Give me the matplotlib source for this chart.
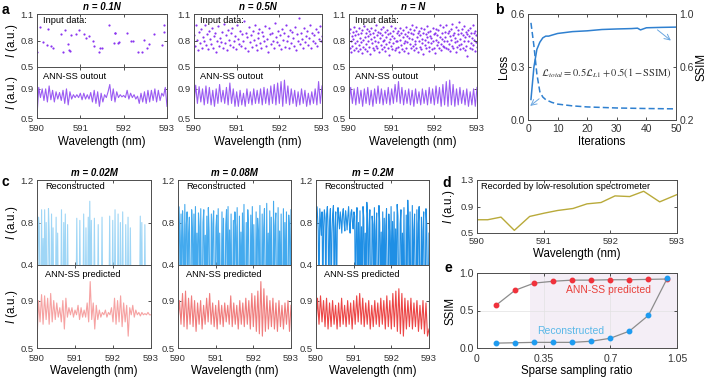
import numpy as np
import matplotlib.pyplot as plt

plt.rcParams['font.family'] = ['Liberation Sans', 'DejaVu Sans']
plt.rcParams['mathtext.fontset'] = 'custom'
plt.rcParams['mathtext.it'] = 'Liberation Sans:italic'
plt.rcParams['mathtext.rm'] = 'Liberation Sans'
plt.rcParams['mathtext.bf'] = 'Liberation Sans:bold'
plt.rcParams['axes.linewidth'] = 0.7
plt.rcParams['axes.edgecolor'] = '#4d4d4d'

# ---------------- data ----------------
# panel a, input data (n = 0.1N)
a_in1_x = [590.01, 590.07, 590.13, 590.24, 590.25, 590.32, 590.38, 590.56, 590.61, 590.65,
           590.72, 590.74, 590.76, 590.78, 590.89, 590.97, 591.09, 591.13, 591.19, 591.30,
           591.32, 591.43, 591.46, 591.51, 591.67, 591.77, 591.79, 591.81, 591.86, 591.90,
           592.07, 592.18, 592.21, 592.32, 592.42, 592.48, 592.54, 592.59, 592.71, 592.89,
           592.92, 592.93]
a_in1_y = [0.67, 0.95, 0.78, 0.75, 0.93, 0.74, 0.72, 0.87, 0.67, 0.92,
           0.76, 0.69, 0.68, 0.86, 0.87, 0.92, 0.87, 0.83, 0.85, 0.79,
           0.74, 0.67, 0.71, 0.72, 0.97, 0.77, 0.89, 0.88, 0.77, 0.78,
           0.89, 0.80, 0.80, 0.67, 0.67, 0.81, 0.71, 0.76, 0.87, 0.75,
           0.90, 0.97]
# n = 0.5N (values x100)
a_in2_y = ("86 74 97 81 69 90 77 93 71 84 79 98 75 87 70 91 82 76 94 72 85 89 67 80 96 74 83 78 90 71 "
           "99 77 86 69 92 81 75 88 94 73 79 85 70 97 82 76 91 74 87 80 102 72 89 84 68 95 78 86 73 91 "
           "81 98 75 69 88 83 93 77 71 90 85 79 96 74 82 67 94 87 76 89 80 72 100 84 78 91 75 86 70 93 "
           "81 88 73 97 79 85 71 92 77 90 83 74 95 69 87 80 105 76 89 82 72 94 78 85 91 75 83 98 71 88 "
           "80 86 77 93 74 90 82 96 79 85")
# n = N (values x100)
a_in3_y = ("88 71 93 79 67 85 74 90 82 69 95 77 86 72 91 80 68 87 75 94 83 70 89 78 66 92 81 73 96 84 "
           "70 88 76 93 68 85 79 91 73 87 65 82 94 77 71 89 84 69 92 80 74 97 86 72 90 78 67 88 83 75 "
           "93 70 86 79 95 73 81 68 90 84 76 92 71 87 78 64 89 82 74 96 85 70 91 77 83 69 94 80 72 88 "
           "79 91 73 86 67 94 81 75 89 70 84 92 77 68 87 80 95 72 85 78 90 66 83 93 76 88 71 82 97 74 "
           "87 69 92 80 76 95 72 84 88 67 91 79 73 86 94 70 82 77 89 65 93 81 75 87 71 96 84 78 90 73 "
           "68 85 91 77 83 70 94 79 87 72 89 66 81 93 75 86 78 92 71 84 98 76 69 88 82 74 95 80 73 90 "
           "84 72 97 79 88 70 91 76 85 68 93 81 74 99 86 71 89 78 83 67 95 80 73 92 87 75 101 82 70 88 "
           "76 93 71 86 80 96 69 84 90 74 87 62 92 79 85 72 94 77 89 70 83 97 75 88 81 68 91 78 86 73")

# panel a, ANN-SS output
a_out1 = [0.52, 0.92, 0.78, 0.90, 0.74, 0.90, 0.72, 0.94, 0.75, 0.88, 0.72, 0.86, 0.76, 0.85, 0.74, 0.88,
          0.70, 0.90, 0.68, 0.86, 0.76, 0.82, 0.78, 0.82, 0.78, 0.84, 0.75, 0.84, 0.76, 0.82, 0.76, 0.85,
          0.72, 0.88, 0.70, 0.86, 0.66, 0.84, 0.72, 0.82, 0.78, 0.86, 0.96, 0.74, 0.90, 0.72, 0.86, 0.78,
          0.82, 0.79, 0.81, 0.78, 0.88, 0.76, 0.84, 0.78, 0.82, 0.76, 0.80, 0.70, 0.84, 0.72, 0.86, 0.70,
          0.88, 0.72, 0.88, 0.74, 0.90, 0.72, 0.88, 0.74, 0.84, 0.80, 0.92, 0.66]
a_out2 = [0.70, 0.95, 0.70, 0.93, 0.72, 0.90, 0.68, 0.94, 0.70, 0.92, 0.68, 0.88, 0.66, 0.90, 0.70, 0.96,
          0.72, 0.88, 0.70, 0.92, 0.68, 0.98, 0.70, 0.90, 0.66, 0.86, 0.66, 0.88, 0.68, 0.84, 0.66, 0.90,
          0.70, 0.86, 0.68, 0.90, 0.70, 0.88, 0.70, 0.90, 0.68, 0.92, 0.70, 0.90, 0.68, 0.94, 0.70, 0.96,
          0.68, 0.98, 0.70, 1.00, 0.66, 1.02, 0.70, 0.94, 0.68, 0.90, 0.70, 0.88, 0.66, 0.86, 0.68, 0.90,
          0.70, 0.88, 0.66, 0.84, 0.68, 0.86, 0.70, 0.90, 0.68, 1.00, 0.70, 0.94]
a_out3 = [0.68, 0.92, 0.70, 0.90, 0.68, 0.92, 0.70, 0.88, 0.66, 0.90, 0.70, 0.92, 0.68, 0.88, 0.66, 0.90,
          0.70, 0.94, 0.70, 0.90, 0.68, 0.88, 0.70, 0.92, 0.68, 0.90, 0.70, 0.96, 0.72, 1.00, 0.70, 0.92,
          0.68, 0.88, 0.70, 0.90, 0.68, 0.88, 0.66, 0.90, 0.70, 0.86, 0.68, 0.90, 0.70, 0.88, 0.68, 0.92,
          0.70, 0.90, 0.68, 0.94, 0.70, 0.92, 0.66, 0.96, 0.68, 1.00, 0.66, 1.02, 0.68, 0.96, 0.66, 0.90,
          0.68, 0.92, 0.70, 0.88, 0.68, 0.90, 0.66, 0.86, 0.68, 0.90, 0.66, 0.92]
a_titles = ['n = 0.1N', 'n = 0.5N', 'n = N']

# panel b
b_iter = [1, 2, 3, 4, 5, 6, 7, 8, 10, 15, 20, 25, 30, 35, 37, 38, 40, 45, 50]
b_ssim = [0.355, 0.60, 0.733, 0.787, 0.82, 0.833, 0.833, 0.84, 0.853, 0.867, 0.873, 0.883, 0.887,
          0.89, 0.893, 0.88, 0.896, 0.899, 0.901]
b_loss_iter = [1, 2, 3, 4, 5, 6, 8, 10, 15, 20, 30, 40, 50]
b_loss = [0.55, 0.42, 0.26, 0.16, 0.13, 0.115, 0.10, 0.09, 0.08, 0.074, 0.068, 0.065, 0.063]

# panel c, reconstructed (on a 150 point grid, 0 = not sampled)
grid_n = 150
rec1_idx = [2, 3, 6, 8, 10, 12, 15, 16, 19, 21, 25, 27, 32, 35, 37, 40, 52, 56, 61, 64, 67, 69, 71,
            75, 80, 85, 95, 99, 102, 106, 109, 112, 116, 119, 122, 135, 137, 141]
rec1_val = [0.85, 0.76, 0.92, 0.65, 0.92, 0.80, 0.93, 0.70, 0.88, 0.75, 0.85, 0.70, 0.92, 0.80, 0.88,
            0.78, 0.84, 0.82, 0.88, 0.75, 0.85, 1.00, 0.82, 0.84, 0.78, 0.85, 0.86, 0.82, 0.92, 0.88,
            0.80, 0.90, 0.78, 0.85, 0.75, 0.86, 0.80, 0.78]
rec2 = ("0 95 72 0 88 0 91 65 0 97 0 78 90 0 70 85 0 0 92 74 0 88 0 95 0 70 0 89 76 0 93 0 0 80 92 0 "
        "68 0 86 0 94 72 0 0 88 0 79 91 0 0 75 87 0 93 0 70 0 0 90 0 84 0 0 78 92 0 95 0 73 0 88 0 0 "
        "82 0 90 76 0 94 0 0 86 0 71 0 89 0 97 0 0 80 0 92 74 0 0 87 0 95 0 78 0 0 90 0 84 72 0 96 0 0 "
        "88 0 75 93 0 0 98 0 70 0 91 0 85 0 0 100 0 77 89 0 0 94 0 72 0 88 0 0 93 0 80 0 90 0 0 87 75 0 92")
rec3 = ("70 95 86 72 0 93 80 68 90 0 76 92 84 0 88 95 74 0 82 93 0 70 88 96 0 75 90 0 72 94 "
        "85 74 90 82 70 88 93 80 72 91 84 73 86 95 78 70 89 92 81 74 90 86 0 72 94 0 80 0 91 0 "
        "76 0 95 84 0 70 0 99 88 0 74 92 0 0 86 78 0 94 0 72 89 0 0 96 80 0 71 0 90 0 "
        "84 0 77 93 0 0 88 72 0 95 0 81 0 90 0 74 0 97 86 0 0 79 92 0 70 0 94 0 0 87 "
        "0 101 76 0 90 0 0 96 0 73 88 0 0 92 0 79 95 0 0 85 0 72 90 0 0 93 78 0 0 70")

# panel c, ANN-SS predicted
c_pred1 = [0.55, 0.90, 0.72, 0.95, 0.70, 0.94, 0.74, 0.92, 0.70, 0.96, 0.72, 0.90, 0.74, 0.88, 0.76, 0.84,
           0.72, 0.90, 0.66, 0.92, 0.76, 0.84, 0.78, 0.84, 0.76, 0.82, 0.78, 0.86, 0.74, 0.84, 0.76, 0.82,
           0.76, 0.88, 0.72, 1.06, 0.74, 0.88, 0.66, 0.86, 0.74, 0.82, 0.76, 0.80, 0.78, 0.82, 0.76, 0.80,
           0.78, 0.84, 0.72, 0.92, 0.70, 0.90, 0.72, 0.94, 0.68, 0.88, 0.72, 0.86, 0.60, 0.84, 0.78, 0.86,
           0.76, 0.82, 0.78, 0.80, 0.77, 0.80, 0.78, 0.79, 0.78, 0.80, 0.78, 0.78]
c_pred2 = [0.72, 0.90, 0.70, 0.96, 0.68, 0.98, 0.66, 0.92, 0.70, 0.94, 0.68, 0.90, 0.64, 0.88, 0.70, 0.90,
           0.66, 0.86, 0.70, 0.92, 0.72, 0.96, 0.70, 0.88, 0.68, 0.86, 0.66, 0.90, 0.70, 0.86, 0.68, 0.88,
           0.72, 0.86, 0.70, 0.94, 0.68, 0.88, 0.70, 0.86, 0.66, 0.90, 0.70, 0.88, 0.68, 0.92, 0.70, 0.90,
           0.66, 0.96, 0.68, 0.94, 0.64, 0.98, 0.62, 1.06, 0.60, 1.00, 0.64, 0.94, 0.66, 0.90, 0.68, 0.92,
           0.66, 0.88, 0.64, 0.90, 0.68, 0.86, 0.66, 0.88, 0.70, 0.90, 0.64, 0.86]
c_pred3 = [0.68, 0.92, 0.70, 0.94, 0.72, 0.90, 0.68, 0.92, 0.66, 0.88, 0.68, 0.90, 0.70, 0.86, 0.66, 0.88,
           0.68, 0.92, 0.70, 0.86, 0.68, 0.90, 0.70, 0.88, 0.66, 0.90, 0.70, 0.94, 0.72, 0.96, 0.70, 0.92,
           0.68, 0.88, 0.70, 0.90, 0.66, 0.86, 0.68, 0.90, 0.70, 0.88, 0.68, 0.92, 0.70, 0.90, 0.66, 0.94,
           0.68, 0.90, 0.66, 0.96, 0.68, 0.98, 0.64, 1.00, 0.62, 0.96, 0.60, 0.92, 0.66, 0.90, 0.68, 0.92,
           0.66, 0.88, 0.68, 0.90, 0.64, 0.86, 0.66, 0.90, 0.62, 0.88, 0.60, 0.66]
c_titles = ['m = 0.02M', 'm = 0.08M', 'm = 0.2M']

# panel d
d_wl = [590.0, 590.16, 590.36, 590.56, 590.79, 591.01, 591.21, 591.44, 591.65, 591.86, 592.07,
        592.29, 592.50, 592.74, 593.0]
d_int = [0.70, 0.70, 0.74, 0.54, 0.75, 0.80, 0.84, 0.87, 0.94, 0.96, 1.06, 1.05, 1.13, 0.97, 1.08]

# panel e
e_ratio = [0.1, 0.2, 0.3, 0.4, 0.5, 0.6, 0.7, 0.8, 0.9, 1.0]
e_pred = [0.57, 0.77, 0.865, 0.89, 0.905, 0.905, 0.91, 0.91, 0.915, 0.92]
e_rec = [0.065, 0.07, 0.075, 0.075, 0.075, 0.09, 0.13, 0.225, 0.435, 0.935]

# ---------------- figure ----------------
W, H = 709, 382
fig = plt.figure(figsize=(W / 100, H / 100), dpi=100)


def add_ax(x0, x1, y0, y1):
    ax = fig.add_axes([x0 / W, 1 - y1 / H, (x1 - x0) / W, (y1 - y0) / H])
    ax.tick_params(direction='in', length=2, width=0.6, labelsize=6.8, pad=2.5,
                   top=True, right=True, colors='#333333')
    ax.tick_params(axis='x', pad=4.5)
    return ax


def vals(s):
    return np.array(s.split(), dtype=float) / 100


purple_pt = '#8a35f0'
purple_ln = '#9b5cf2'
ylab = '$I$ (a.u.)'
wl_ticks = [590, 591, 592, 593]

a_inputs = [(a_in1_x, a_in1_y),
            (np.linspace(590, 593, len(vals(a_in2_y))), vals(a_in2_y)),
            (np.linspace(590, 593, len(vals(a_in3_y))), vals(a_in3_y))]
a_outputs = [a_out1, a_out2, a_out3]
a_cols = [(37, 167), (194, 322), (349, 477)]
for k, (x0, x1) in enumerate(a_cols):
    top = add_ax(x0, x1, 14, 67)
    bot = add_ax(x0, x1, 67, 118)
    xs, ys = a_inputs[k]
    top.scatter(xs, ys, s=2.5, color=purple_pt, linewidths=0)
    top.set_xlim(590, 593)
    top.set_ylim(0.5, 1.1)
    top.set_yticks([0.5, 0.8, 1.1])
    top.set_xticks(wl_ticks)
    top.set_xticklabels([])
    top.text(0.045, 0.87, 'Input data:', transform=top.transAxes, fontsize=6.7, va='center')
    top.set_title(a_titles[k], fontsize=7, fontweight='bold', style='italic', pad=3)
    out = a_outputs[k]
    bot.plot(np.linspace(590, 593, len(out)), out, color=purple_ln, lw=0.8)
    bot.set_xlim(590, 593)
    bot.set_ylim(0.5, 1.2)
    bot.set_yticks([0.5, 0.9])
    bot.set_xticks(wl_ticks)
    bot.text(0.045, 0.82, 'ANN-SS outout', transform=bot.transAxes, fontsize=6.7, va='center')
    bot.set_xlabel('Wavelength (nm)', fontsize=8.3, labelpad=2)
    if k == 0:
        top.set_ylabel(ylab, fontsize=8.3)
        top.yaxis.set_label_coords(-0.13, 0.5)
        bot.set_ylabel(ylab, fontsize=8.3)
        bot.yaxis.set_label_coords(-0.13, 0.5)

# panel b
blue = '#2f80d0'
axb = add_ax(528, 676, 14, 120)
axb.tick_params(right=False)
axb.plot(b_loss_iter, b_loss, color=blue, lw=1.1, ls=(0, (4, 2)))
axb.set_xlim(0, 50)
axb.set_ylim(0, 0.6)
axb.set_yticks([0, 0.3, 0.6])
axb.set_yticklabels(['0.0', '0.3', '0.6'])
axb.set_xticks([0, 10, 20, 30, 40, 50])
axb.tick_params(labelsize=7.5)
axb.tick_params(axis='x', pad=3)
axb.set_xlabel('Iterations', fontsize=8.3, labelpad=1)
axb.set_ylabel('Loss', fontsize=8.3)
axb.yaxis.set_label_coords(-0.12, 0.5)
axb2 = axb.twinx()
axb2.tick_params(direction='in', length=2, width=0.6, labelsize=7.5, pad=2.5, colors='#333333')
axb2.plot(b_iter, b_ssim, color=blue, lw=1.1)
axb2.set_ylim(0.2, 1.0)
axb2.set_yticks([0.2, 0.6, 1.0])
axb2.set_ylabel('SSIM', fontsize=8.3, labelpad=1)
axb.annotate('', xy=(0, 0.07), xytext=(4.5, 0.13),
             arrowprops=dict(arrowstyle='->', color='#6aa6e0', lw=0.7))
axb.annotate('', xy=(49, 0.44), xytext=(43, 0.52),
             arrowprops=dict(arrowstyle='->', color='#6aa6e0', lw=0.7))
axb.text(4.3, 0.265, r'$\mathcal{L}_{total}=0.5\mathcal{L}_{L1}+0.5(1-\mathrm{SSIM})$',
         fontsize=7.5, va='center', math_fontfamily='stix', color='#333333')

# panel c
rec1 = np.zeros(grid_n)
rec1[rec1_idx] = rec1_val
c_recs = [rec1, vals(rec2), vals(rec3)]
c_preds = [c_pred1, c_pred2, c_pred3]
rec_colors = ['#9fd6f6', '#44aaee', '#1f8fe5']
pred_colors = ['#f6a2a2', '#f07c7c', '#ec4646']
c_cols = [(37, 151), (178, 291), (316, 429)]
for k, (x0, x1) in enumerate(c_cols):
    top = add_ax(x0, x1, 180, 265)
    bot = add_ax(x0, x1, 265, 348)
    r = c_recs[k]
    top.plot(np.linspace(590, 593, len(r)), r, color=rec_colors[k], lw=0.8)
    top.set_xlim(590, 593)
    top.set_ylim(0.4, 1.2)
    top.set_yticks([0.4, 0.8, 1.2])
    top.set_xticks(wl_ticks)
    top.set_xticklabels([])
    top.text(0.07, 0.92, 'Reconstructed', transform=top.transAxes, fontsize=6.7, va='center')
    top.set_title(c_titles[k], fontsize=7, fontweight='bold', style='italic', pad=3)
    p = c_preds[k]
    bot.plot(np.linspace(590, 593, len(p)), p, color=pred_colors[k], lw=0.8)
    bot.set_xlim(590, 593)
    bot.set_ylim(0.5, 1.2)
    bot.set_yticks([0.5, 0.9])
    bot.set_xticks(wl_ticks)
    bot.text(0.07, 0.89, 'ANN-SS predicted', transform=bot.transAxes, fontsize=6.7, va='center')
    bot.set_xlabel('Wavelength (nm)', fontsize=8.3, labelpad=1)
    if k == 0:
        top.set_ylabel(ylab, fontsize=8.3)
        top.yaxis.set_label_coords(-0.15, 0.5)
        bot.set_ylabel(ylab, fontsize=8.3)
        bot.yaxis.set_label_coords(-0.15, 0.5)

# panel d
axd = add_ax(477, 677, 180, 233)
axd.plot(d_wl, d_int, color='#b9aa3a', lw=1.0)
axd.set_xlim(590, 593)
axd.set_ylim(0.5, 1.3)
axd.set_yticks([0.5, 0.9, 1.3])
axd.set_xticks(wl_ticks)
axd.tick_params(axis='x', pad=3)
axd.text(0.02, 0.88, 'Recorded by low-resolution spectrometer', transform=axd.transAxes,
         fontsize=6.7, va='center')
axd.set_xlabel('Wavelength (nm)', fontsize=8.3, labelpad=1)
axd.set_ylabel(ylab, fontsize=8.3)
axd.yaxis.set_label_coords(-0.1, 0.5)

# panel e
axe = add_ax(477, 677, 273, 348)
axe.axvspan(0.28, 1.05, color='#f4eef6', lw=0, zorder=0)
axe.grid(color='#e2e2e2', lw=0.5)
axe.plot(e_ratio, e_pred, color='#8c8c8c', lw=0.9, marker='o', ms=3.2,
         mfc='#f0323c', mec='#f0323c', zorder=3)
axe.plot(e_ratio, e_rec, color='#8c8c8c', lw=0.9, marker='o', ms=3.2,
         mfc='#1e9bf0', mec='#1e9bf0', zorder=3)
axe.set_xlim(0, 1.05)
axe.set_ylim(0, 1.0)
axe.set_xticks([0, 0.35, 0.7, 1.05])
axe.set_xticklabels(['0', '0.35', '0.7', '1.05'])
axe.set_yticks([0, 0.5, 1.0])
axe.set_yticklabels(['0.0', '0.5', '1.0'])
axe.tick_params(labelsize=7.5)
axe.tick_params(axis='x', pad=4)
axe.text(0.69, 0.77, 'ANN-SS predicted', color='#e8413c', fontsize=7.5, ha='center', va='center')
axe.text(0.49, 0.22, 'Reconstructed', color='#5ab8e8', fontsize=7.5, ha='center', va='center')
axe.set_xlabel('Sparse sampling ratio', fontsize=8.3, labelpad=1)
axe.set_ylabel('SSIM', fontsize=8.3)
axe.yaxis.set_label_coords(-0.1, 0.5)

# panel letters
for letter, (px, py) in zip('abcde', [(5, 10), (499, 10), (5, 182), (447, 183), (448, 268)]):
    fig.text(px / W, 1 - py / H, letter, fontsize=10, fontweight='bold', ha='center', va='center')

fig.savefig('out.png', dpi=100)
